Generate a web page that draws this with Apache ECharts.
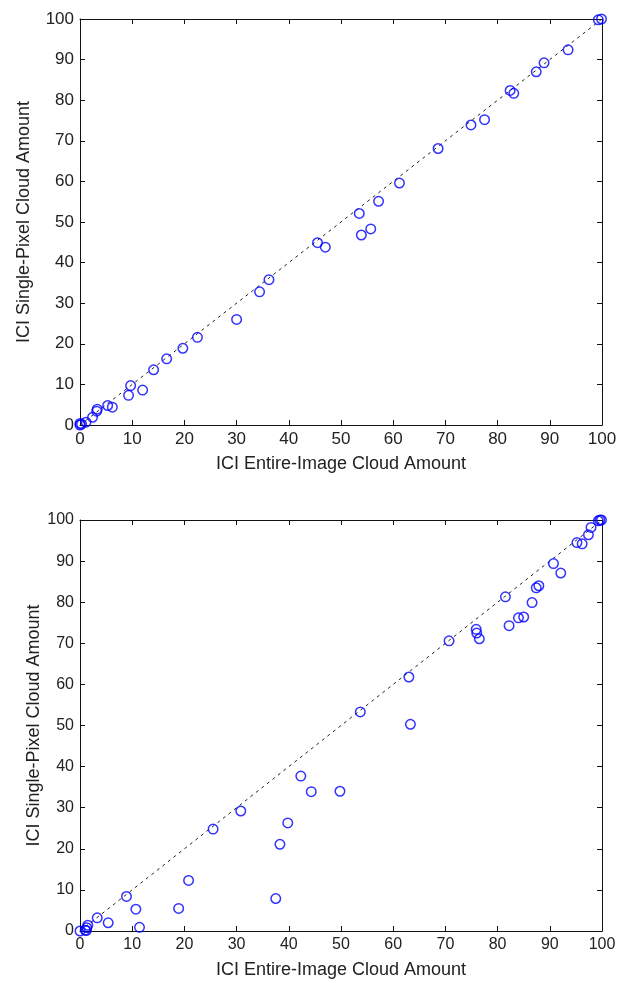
<!DOCTYPE html>
<html>
<head>
<meta charset="utf-8">
<script src="https://cdn.jsdelivr.net/npm/echarts@6/dist/echarts.min.js"></script>
<style>
  html, body { margin: 0; padding: 0; background: #fff; }
  #chart { width: 626px; height: 983px; }
</style>
</head>
<body>
<div id="chart"></div>
<script>
// 上图：单像素 vs 整幅图像云量
const topEntire = [0, 0.3, 0, 1.15, 2.4, 3.2, 3.3, 5.3, 6.2, 9.3, 9.7, 12.0, 14.1, 16.6, 19.7, 22.5,
  30.0, 34.4, 36.2, 45.5, 47.0, 53.5, 53.9, 55.7, 57.2, 61.2, 68.6, 74.9, 77.5, 82.4, 83.1,
  87.4, 88.9, 93.5, 99.3, 99.9]
const topSingle = [0, 0.2, 0.4, 0.7, 1.9, 3.4, 3.9, 4.8, 4.4, 7.3, 9.7, 8.6, 13.6, 16.3, 18.9, 21.6,
  26.0, 32.8, 35.8, 44.9, 43.8, 52.1, 46.8, 48.3, 55.1, 59.6, 68.1, 73.9, 75.2, 82.4, 81.7,
  87.0, 89.2, 92.4, 99.8, 100]

// 下图
const bottomEntire = [0, 1.0, 1.2, 1.3, 1.5, 3.3, 5.4, 8.9, 10.7, 11.4, 18.9, 20.8, 25.5, 30.8,
  37.5, 38.3, 39.8, 42.3, 44.3, 49.8, 53.7, 63.0, 63.3, 70.7, 75.9, 76.0, 76.5, 81.5, 82.2,
  84.0, 85.0, 86.6, 87.4, 87.9, 90.7, 92.1, 95.2, 96.2, 97.4, 97.9, 99.3, 99.6, 99.9]
const bottomSingle = [0, 0.2, 0.1, 0.8, 1.4, 3.2, 2.0, 8.4, 5.3, 0.9, 5.5, 12.3, 24.8, 29.2,
  7.9, 21.1, 26.3, 37.7, 33.9, 34.0, 53.3, 61.8, 50.3, 70.6, 73.4, 72.5, 71.1, 81.3, 74.3,
  76.2, 76.4, 79.9, 83.5, 84.0, 89.4, 87.1, 94.5, 94.2, 96.4, 98.2, 99.8, 100, 100]

// 1:1 参考线
const refLine = [[0, 0], [100, 100]]

const xTitle = 'ICI Entire-Image Cloud Amount'
const yTitle = 'ICI Single-Pixel Cloud Amount'

const toPairs = (xs, ys) => xs.map((x, i) => [x, ys[i]])

const chart = echarts.init(document.getElementById('chart'))

const font = 'Arial, "Liberation Sans", sans-serif'

const makeAxis = (dim, gridIndex, fontSize, nameGap, pos) => ({
  type: 'value',
  gridIndex,
  min: 0,
  max: 100,
  interval: 10,
  position: pos,
  name: pos === 'bottom' || pos === 'left' ? (dim === 'x' ? xTitle : yTitle) : '',
  nameLocation: 'middle',
  nameGap,
  nameMoveOverlap: false,
  nameTextStyle: { color: '#222', fontSize: 18, fontFamily: font },
  axisLine: { show: true, onZero: false, lineStyle: { color: '#111', width: 1 } },
  axisTick: { show: true, inside: true, length: 5, lineStyle: { color: '#111' } },
  axisLabel: {
    show: pos === 'bottom' || pos === 'left',
    color: '#222',
    fontSize,
    fontFamily: font,
    margin: 6
  },
  splitLine: { show: false }
})

const scatterStyle = {
  color: 'rgba(0,0,0,0)',
  borderColor: '#0000ff',
  borderWidth: 1.5
}

const option = {
  animation: false,
  backgroundColor: '#fff',
  grid: [
    { left: 80, top: 19, width: 522, height: 406 },
    { left: 80, top: 520, width: 522, height: 411 }
  ],
  xAxis: [
    makeAxis('x', 0, 17, 30, 'bottom'),
    makeAxis('x', 0, 17, 30, 'top'),
    makeAxis('x', 1, 16, 30, 'bottom'),
    makeAxis('x', 1, 16, 30, 'top')
  ],
  yAxis: [
    makeAxis('y', 0, 17, 47, 'left'),
    makeAxis('y', 0, 17, 47, 'right'),
    makeAxis('y', 1, 16, 37, 'left'),
    makeAxis('y', 1, 16, 37, 'right')
  ],
  series: [
    {
      type: 'line', xAxisIndex: 0, yAxisIndex: 0, data: refLine, symbol: 'none',
      lineStyle: { color: '#222', width: 1, type: [3, 4] }, z: 1
    },
    {
      type: 'scatter', xAxisIndex: 0, yAxisIndex: 0, data: toPairs(topEntire, topSingle),
      symbol: 'circle', symbolSize: 9.5, itemStyle: scatterStyle, z: 2
    },
    {
      type: 'line', xAxisIndex: 2, yAxisIndex: 2, data: refLine, symbol: 'none',
      lineStyle: { color: '#222', width: 1, type: [3, 4] }, z: 1
    },
    {
      type: 'scatter', xAxisIndex: 2, yAxisIndex: 2, data: toPairs(bottomEntire, bottomSingle),
      symbol: 'circle', symbolSize: 9.5, itemStyle: scatterStyle, z: 2
    }
  ]
}

chart.setOption(option)
</script>
</body>
</html>
